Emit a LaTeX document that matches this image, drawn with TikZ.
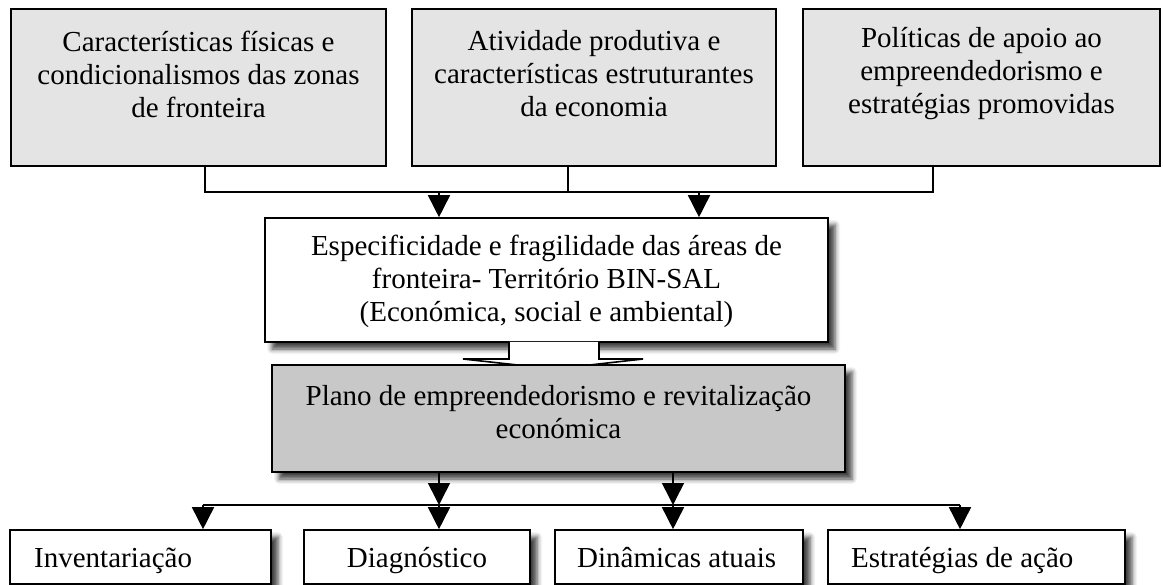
\documentclass[tikz,border=0pt]{standalone}
\usepackage{fontspec}
\setmainfont{Liberation Serif}
\usetikzlibrary{arrows.meta,shadows.blur}
\definecolor{topgray}{RGB}{228,228,228}
\definecolor{plangray}{RGB}{200,200,200}
\tikzset{
  topbox/.style={draw=black, line width=1.6pt, fill=topgray, inner sep=0pt},
  whitebox/.style={draw=black, line width=1.6pt, fill=white, inner sep=0pt,
    blur shadow={shadow xshift=7pt, shadow yshift=-7pt, shadow blur radius=5pt, shadow opacity=75}},
  planbox/.style={draw=black, line width=1.6pt, fill=plangray, inner sep=0pt,
    blur shadow={shadow xshift=7pt, shadow yshift=-7pt, shadow blur radius=5pt, shadow opacity=75}},
  txt/.style={font=\fontsize{29}{33}\selectfont, align=center, inner sep=0pt},
  txtone/.style={font=\fontsize{29}{33}\selectfont, inner sep=0pt, anchor=base west},
  conn/.style={line width=1.6pt},
  arr/.style={line width=1.6pt, -{Triangle[length=22pt,width=22pt]}},
}
\begin{document}
\begin{tikzpicture}[x=1pt,y=-1pt]
\useasboundingbox (0,0) rectangle (1163,585);
% top boxes
\node[topbox, minimum width=375pt, minimum height=157pt] (b1) at (198.5,87.5) {};
\node[topbox, minimum width=364pt, minimum height=157pt] (b2) at (594,87.5) {};
\node[topbox, minimum width=357pt, minimum height=157pt] (b3) at (981.5,87.5) {};
\node[txt] (t1) at (198.5,74) {Características físicas e\\condicionalismos das zonas\\de fronteira};
\node[txt] (t2) at (594,74) {Atividade produtiva e\\características estruturantes\\da economia};
\node[txt] (t3) at (981.5,74) {Políticas de apoio ao\\empreendedorismo e\\estratégias promovidas};
% middle box
\node[whitebox, minimum width=563pt, minimum height=124pt] (mid) at (546.5,280) {};
\node[txt] (tm) at (546.5,281) {Especificidade e fragilidade das áreas de\\fronteira- Território BIN-SAL\\(Económica, social e ambiental)};
% top connectors
\coordinate (c1) at (205,192);
\coordinate (c2) at (568,192);
\coordinate (c3) at (933,192);
\coordinate (a1) at (439,192);
\coordinate (a2) at (699,192);
\draw[conn] (b1.south -| c1) -- (c1) -- (c3) -- (b3.south -| c3);
\draw[conn] (b2.south -| c2) -- (c2);
\draw[arr] (a1) -- (a1 |- mid.north);
\draw[arr] (a2) -- (a2 |- mid.north);
% block arrow
\draw[line width=1.6pt, fill=white, line join=miter]
  (509,342) -- (509,359) -- (463,359) -- (554,369) -- (643,359) -- (599,359) -- (599,342);
% plan box
\node[planbox, minimum width=573pt, minimum height=107pt] (plan) at (558.5,418.5) {};
\node[txt] (tp) at (558.5,412) {Plano de empreendedorismo e revitalização\\económica};
% bottom boxes
\node[whitebox, minimum width=261pt, minimum height=54pt] (bA) at (140.5,557) {};
\node[whitebox, minimum width=226pt, minimum height=54pt] (bB) at (417,557) {};
\node[whitebox, minimum width=248pt, minimum height=54pt] (bC) at (679,557) {};
\node[whitebox, minimum width=297pt, minimum height=54pt] (bD) at (976.5,557) {};
\node[txtone] (tA) at (34,567) {Inventariação};
\node[txtone, anchor=base] (tB) at (417,567) {Diagnóstico};
\node[txtone] (tC) at (577,567) {Dinâmicas atuais};
\node[txtone] (tD) at (851,567) {Estratégias de ação};
% bottom connectors
\coordinate (d1) at (439,505);
\coordinate (d2) at (673,505);
\coordinate (hl) at (203,505);
\coordinate (hr) at (960,505);
\draw[arr] (plan.south -| d1) -- (d1);
\draw[arr] (plan.south -| d2) -- (d2);
\draw[conn] (hl) -- (hr);
\draw[arr] (hl) -- (hl |- bA.north);
\draw[arr] (d1) -- (d1 |- bB.north);
\draw[arr] (d2) -- (d2 |- bC.north);
\draw[arr] (hr) -- (hr |- bD.north);
\end{tikzpicture}
\end{document}
